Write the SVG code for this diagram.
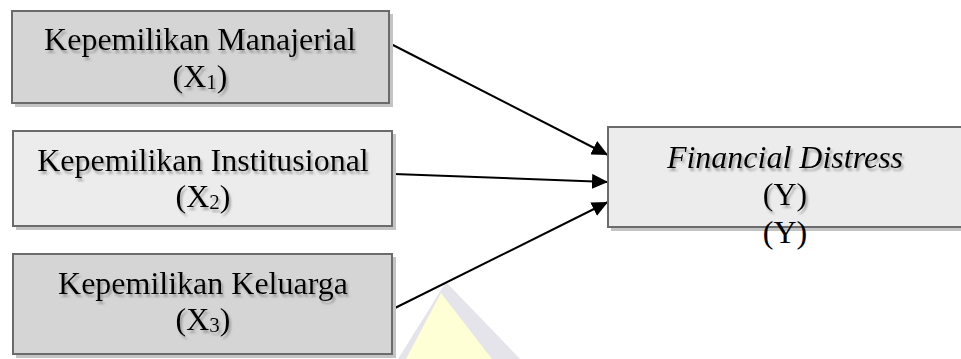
<svg xmlns="http://www.w3.org/2000/svg" width="961" height="359" viewBox="0 0 961 359">
<style>
.shadow{fill:#c4c4c4}
.box{stroke:#6b6b6b;stroke-width:2}
.dark{fill:#d5d5d5}
.light{fill:#ececec}
.t{font-family:"Liberation Serif","Times New Roman",serif;font-size:32px;fill:#000;text-anchor:middle}
.it{font-style:italic}
.conn{stroke:#000;stroke-width:2;fill:none}
</style>
<defs>
<marker id="arr" markerUnits="userSpaceOnUse" markerWidth="16" markerHeight="15" viewBox="0 0 16 15" refX="16" refY="7.5" orient="auto">
<path d="M0,0 L16,7.5 L0,15 Z" fill="#000"/>
</marker>
<filter id="ts" x="-10%" y="-30%" width="120%" height="160%">
<feDropShadow dx="2" dy="3" stdDeviation="1.2" flood-color="#777" flood-opacity="0.6"/>
</filter>
</defs>

<g id="watermark">
<polygon points="446,282 398,359 520,359" fill="#e4e4ea"/>
<polygon points="441,293 406,359 492,359" fill="#ffffd6"/>
</g>

<g id="connectors">
<line class="conn" x1="391" y1="44" x2="608" y2="155" marker-end="url(#arr)"/>
<line class="conn" x1="394" y1="174" x2="608" y2="182" marker-end="url(#arr)"/>
<line class="conn" x1="395" y1="308" x2="608" y2="202" marker-end="url(#arr)"/>
</g>

<g id="x1">
<rect class="shadow" x="15" y="14" width="378" height="93"/>
<rect class="box dark" x="12" y="11" width="377" height="92"/>
<text class="t" x="200" y="50" filter="url(#ts)">Kepemilikan Manajerial</text>
<text class="t" x="200" y="87" filter="url(#ts)">(X<tspan font-size="21" dy="2">1</tspan><tspan dy="-2">)</tspan></text>
</g>

<g id="x2">
<rect class="shadow" x="16" y="134" width="380" height="96"/>
<rect class="box light" x="13" y="131" width="379" height="95"/>
<text class="t" x="203" y="171" filter="url(#ts)">Kepemilikan Institusional</text>
<text class="t" x="203" y="207" filter="url(#ts)">(X<tspan font-size="21" dy="2">2</tspan><tspan dy="-2">)</tspan></text>
</g>

<g id="x3">
<rect class="shadow" x="16" y="257" width="380" height="101"/>
<rect class="box dark" x="13" y="254" width="379" height="100"/>
<text class="t" x="203" y="294" filter="url(#ts)">Kepemilikan Keluarga</text>
<text class="t" x="203" y="330" filter="url(#ts)">(X<tspan font-size="21" dy="2">3</tspan><tspan dy="-2">)</tspan></text>
</g>

<g id="y">
<rect class="shadow" x="611" y="131" width="360" height="100"/>
<rect class="box light" x="608" y="127" width="360" height="100"/>
<text class="t it" x="785" y="168" filter="url(#ts)">Financial Distress</text>
<text class="t" x="785" y="205" filter="url(#ts)">(Y)</text>
<text class="t" x="785" y="243">(Y)</text>
</g>
</svg>
